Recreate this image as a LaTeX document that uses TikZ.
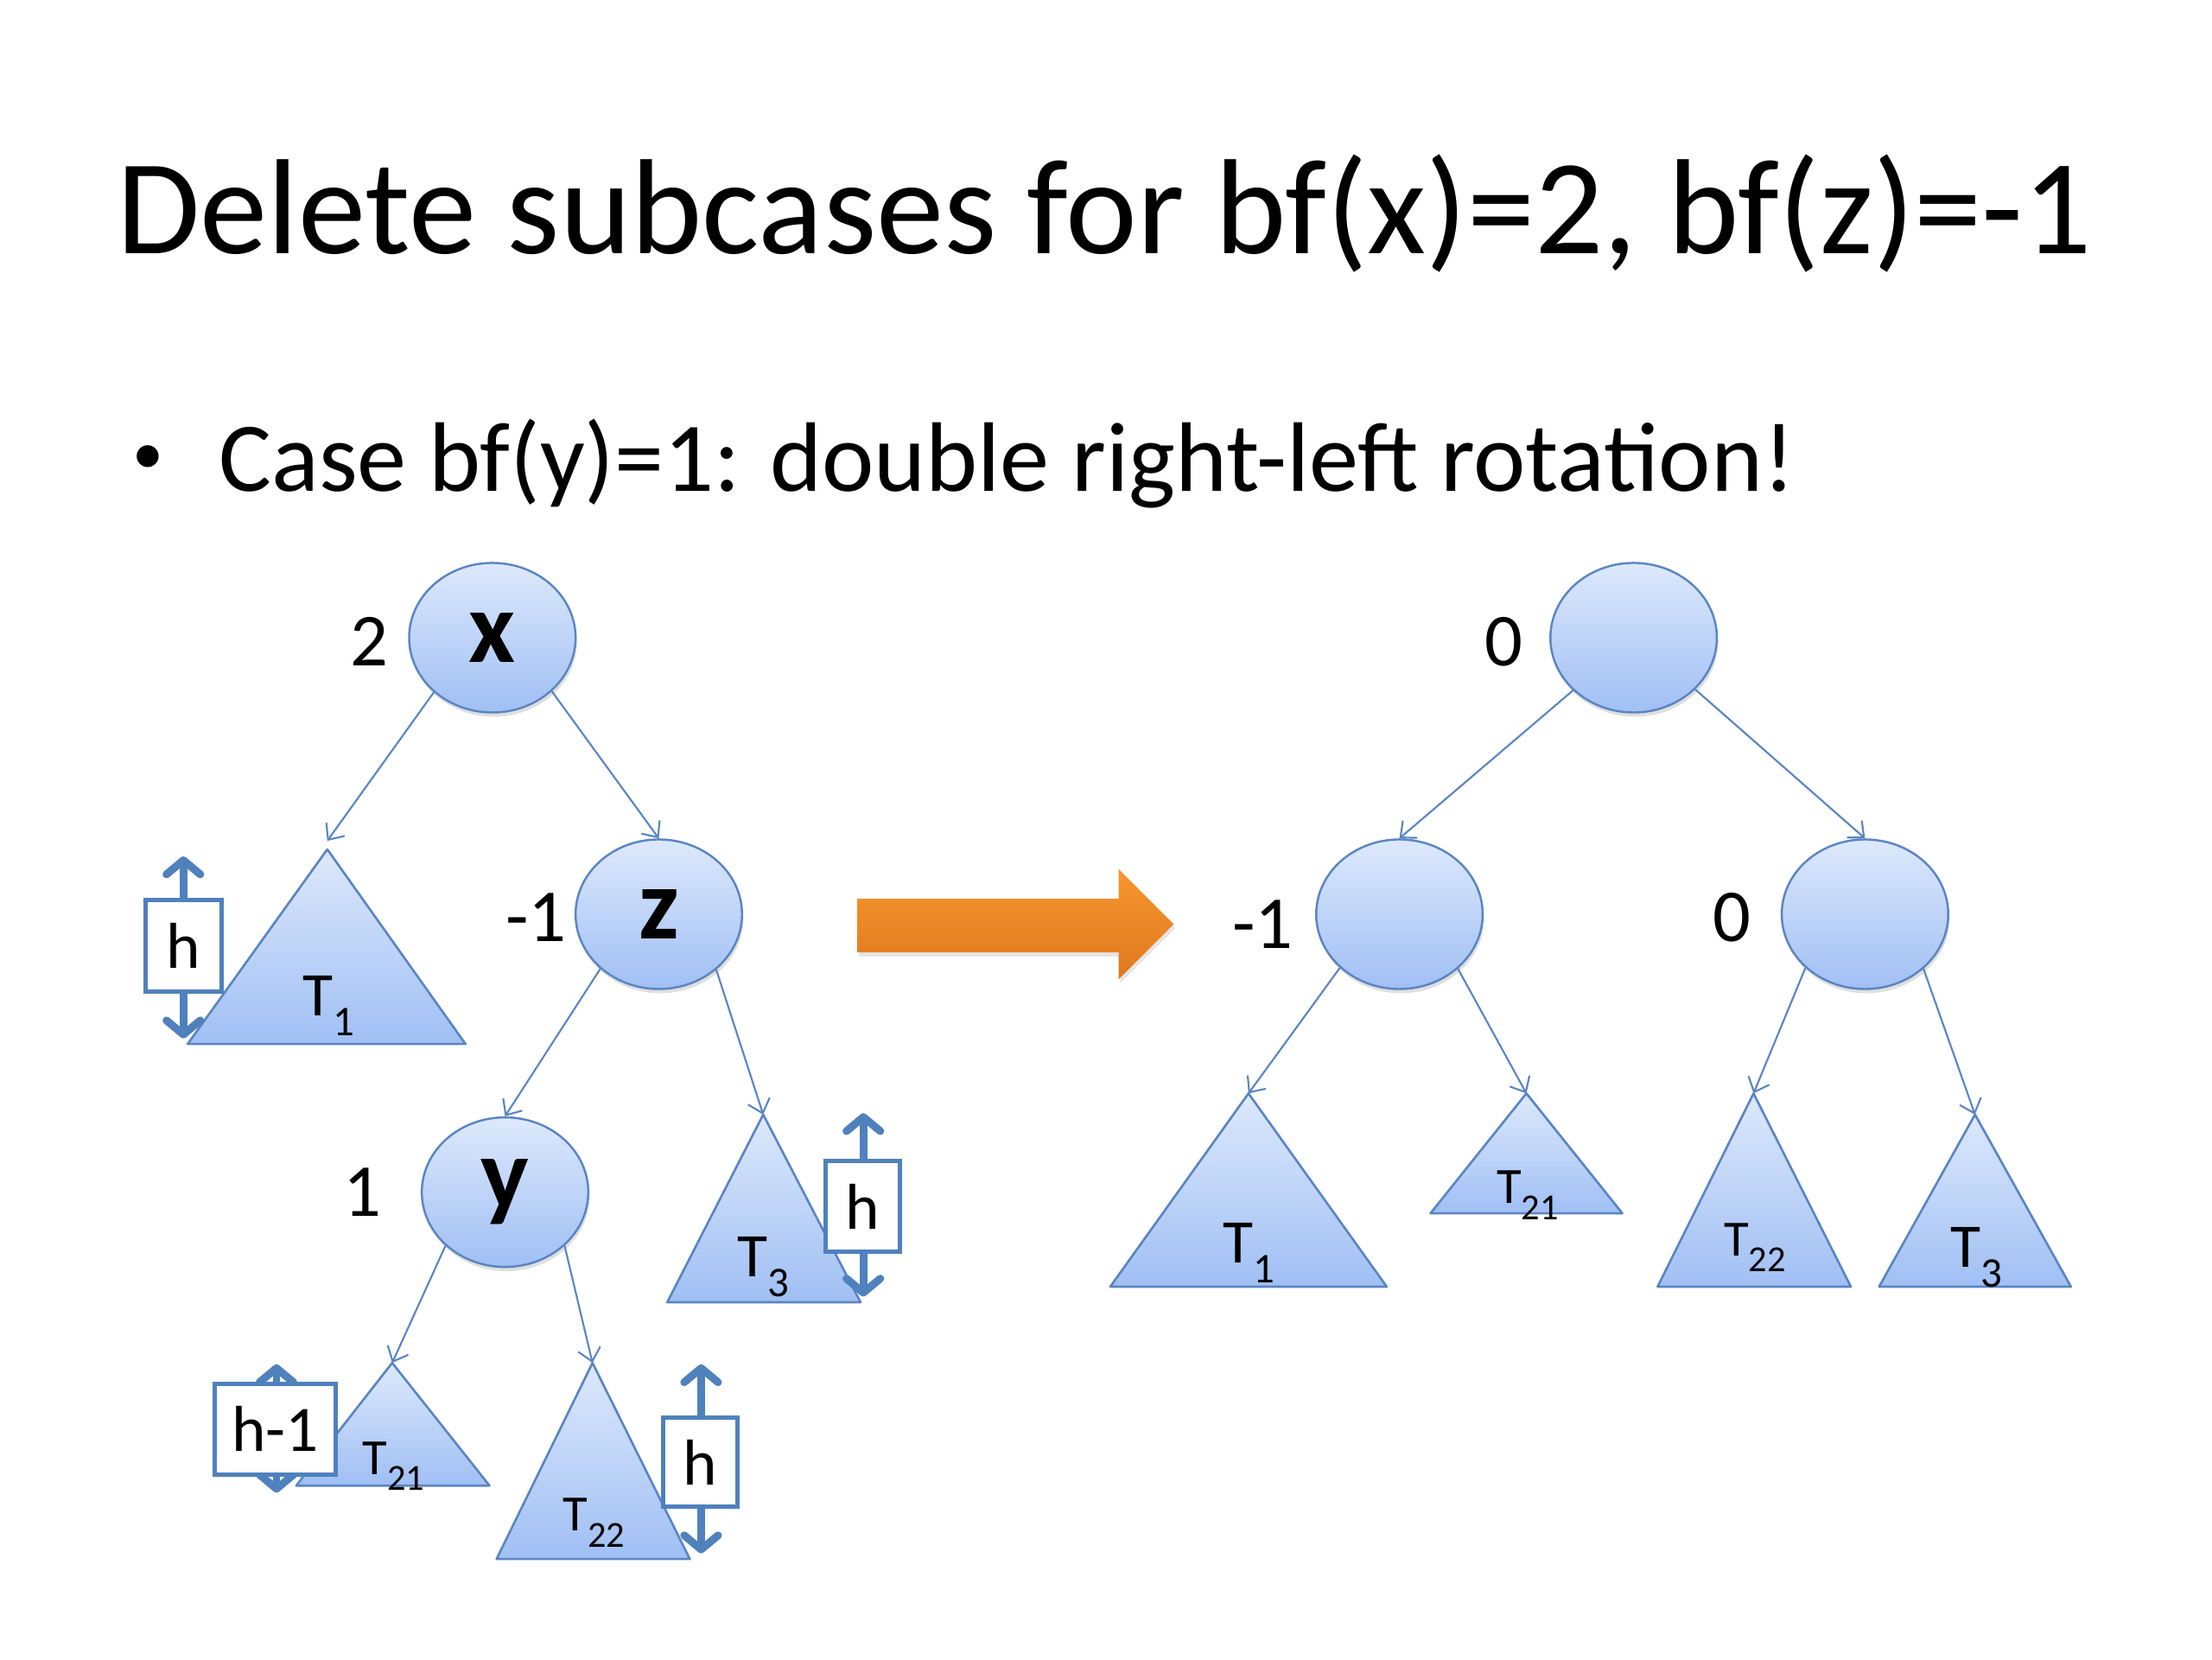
\documentclass[tikz,border=0pt]{standalone}
\usepackage{fontspec}
\setmainfont{Carlito}
\usetikzlibrary{shapes.geometric,arrows.meta,shadows}
\definecolor{nodeline}{HTML}{5A85C2}
\definecolor{nodetop}{HTML}{DDE9FC}
\definecolor{nodebot}{HTML}{A0BFF4}
\definecolor{boxline}{HTML}{4F81BD}
\definecolor{orgtop}{HTML}{F7962F}
\definecolor{orgbot}{HTML}{DE781E}
\newcommand\Tlab[3]{{\fontsize{#1}{#1}\selectfont T\raisebox{-0.32em}{\fontsize{#2}{#2}\selectfont #3}}}
\begin{document}
\begin{tikzpicture}[x=1pt,y=-1pt,
  treenode/.style={ellipse, draw=nodeline, line width=1.5pt, top color=nodetop, bottom color=nodebot,
    minimum width=118pt, minimum height=106pt, inner sep=0pt,
    font=\fontsize{72}{74}\selectfont\bfseries,
    drop shadow={opacity=0.25, shadow xshift=1pt, shadow yshift=-3pt}},
  bflab/.style={inner sep=0pt, font=\fontsize{53}{55}\selectfont},
  tri/.style={draw=nodeline, line width=1.6pt, line join=round, top color=nodetop, bottom color=nodebot},
  tlab/.style={inner sep=0pt, anchor=base},
  edge/.style={draw=nodeline, line width=1.3pt, -{Straight Barb[length=9pt,width=16pt]}},
  hbox/.style={draw=boxline, line width=3pt, fill=white, inner sep=0pt, font=\fontsize{46}{48}\selectfont},
  harrow/.style={draw=boxline, line width=5.5pt,
    {Straight Barb[length=10pt,width=24pt,line cap=round,line join=round]}-{Straight Barb[length=10pt,width=24pt,line cap=round,line join=round]}}
]
\useasboundingbox (0,0) rectangle (1568,1176);

% title and bullet
\node[inner sep=0pt, anchor=base, font=\fontsize{96}{98}\selectfont] (title) at (783,180) {Delete subcases for bf(x)=2, bf(z)=-1};
\node[inner sep=0pt, font=\fontsize{44}{46}\selectfont] (bul) at (105,326) {\textbullet};
\node[inner sep=0pt, anchor=base west, font=\fontsize{70}{72}\selectfont] (case) at (155,348) {Case bf(y)=1: double right-left rotation!};

% ---------- left tree ----------
% triangles
\draw[tri] (232,602) -- (330,740) -- (133,740) -- cycle;
\draw[tri] (541,790) -- (610,923) -- (473,923) -- cycle;
\draw[tri] (278,966) -- (347,1053) -- (210,1053) -- cycle;
\draw[tri] (420,966) -- (489,1105) -- (352,1105) -- cycle;
\coordinate (lT1) at (232,596);
\coordinate (lT3) at (541,790);
\coordinate (lT21) at (278,966);
\coordinate (lT22) at (420,966);
\node[tlab] (lT1l) at (233,720) {\Tlab{44}{30}{1}};
\node[tlab] (lT3l) at (541,905) {\Tlab{44}{30}{3}};
\node[tlab] (lT21l) at (279,1045) {\Tlab{36}{26}{21}};
\node[tlab] (lT22l) at (421,1085) {\Tlab{36}{26}{22}};

% height markers
\coordinate (a1s) at (130,607); \coordinate (a1e) at (130,736);
\coordinate (a3s) at (612,789); \coordinate (a3e) at (612,919);
\coordinate (a21s) at (196,967); \coordinate (a21e) at (196,1058);
\coordinate (a22s) at (497,967); \coordinate (a22e) at (497,1101);
\draw[harrow] (a1s) -- (a1e);
\draw[harrow] (a3s) -- (a3e);
\draw[harrow] (a21s) -- (a21e);
\draw[harrow] (a22s) -- (a22e);
\node[hbox, minimum width=54pt, minimum height=65pt] (h1) at (130,670.5) {h};
\node[hbox, minimum width=53pt, minimum height=64pt] (h3) at (611.5,855) {h};
\node[hbox, minimum width=86pt, minimum height=64pt] (h21) at (195,1013) {h-1};
\node[hbox, minimum width=53pt, minimum height=63pt] (h22) at (496.5,1036.5) {h};

% nodes
\node[treenode] (x) at (349,452) {\raisebox{-4pt}{x}};
\node[treenode] (z) at (467,648) {\raisebox{-4pt}{z}};
\node[treenode] (y) at (358,845) {\raisebox{-4pt}{y}};
\node[bflab] (bx) at (262,455) {2};
\node[bflab] (bz) at (380,650) {-1};
\node[bflab] (by) at (257,845) {1};

\draw[edge] (x.223) -- (lT1);
\draw[edge] (x.318) -- (z.north);
\draw[edge] (z.223) -- (y.north);
\draw[edge] (z.316) -- (lT3);
\draw[edge] (y.222) -- (lT21);
\draw[edge] (y.318) -- (lT22);

% ---------- orange arrow ----------
\path[top color=orgtop, bottom color=orgbot, drop shadow={opacity=0.2, shadow xshift=1pt, shadow yshift=-3pt}]
  (608,637) -- (793,637) -- (793,616) -- (832,655) -- (793,694) -- (793,675) -- (608,675) -- cycle;

% ---------- right tree ----------
\draw[tri] (885,775) -- (983,912) -- (787,912) -- cycle;
\draw[tri] (1082,775) -- (1150,860) -- (1014,860) -- cycle;
\draw[tri] (1243,775) -- (1312,912) -- (1175,912) -- cycle;
\draw[tri] (1400,790) -- (1468,912) -- (1332,912) -- cycle;
\coordinate (rT1) at (885,775);
\coordinate (rT21) at (1082,775);
\coordinate (rT22) at (1243,775);
\coordinate (rT3) at (1400,790);
\node[tlab] (rT1l) at (885,895) {\Tlab{44}{30}{1}};
\node[tlab] (rT21l) at (1083,853) {\Tlab{36}{26}{21}};
\node[tlab] (rT22l) at (1244,890) {\Tlab{36}{26}{22}};
\node[tlab] (rT3l) at (1401,898) {\Tlab{44}{30}{3}};

\node[treenode] (r) at (1158,452) {};
\node[treenode] (ra) at (992,648) {};
\node[treenode] (rb) at (1322,648) {};
\node[bflab] (br) at (1066,455) {0};
\node[bflab] (bra) at (895,655) {-1};
\node[bflab] (brb) at (1228,650) {0};

\draw[edge] (r.221) -- (ra.north);
\draw[edge] (r.320) -- (rb.north);
\draw[edge] (ra.222) -- (rT1);
\draw[edge] (ra.317) -- (rT21);
\draw[edge] (rb.222) -- (rT22);
\draw[edge] (rb.317) -- (rT3);
\end{tikzpicture}
\end{document}
